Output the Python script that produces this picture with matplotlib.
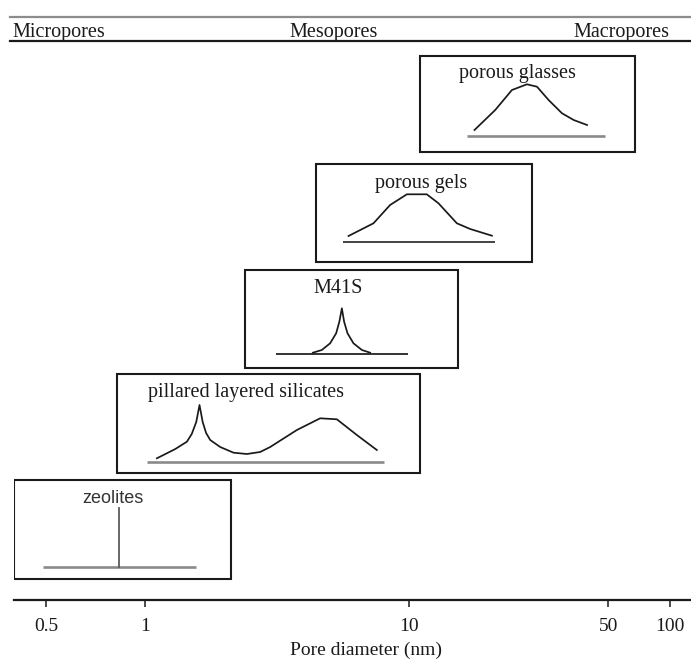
import numpy as np
import matplotlib
matplotlib.use("Agg")
import matplotlib.pyplot as plt
from matplotlib.patches import Rectangle

# ---- data -------------------------------------------------------------
MATERIALS = ["zeolites", "pillared layered silicates", "M41S", "porous gels", "porous glasses"]

# pore-diameter span (nm) covered by each panel and by its baseline
RANGE_LO = [0.40, 0.82, 2.39, 4.44, 10.9]
RANGE_HI = [2.12, 10.9, 14.8, 27.0, 67.6]
BASE_LO = [0.49, 1.02, 3.13, 5.61, 15.9]
BASE_HI = [1.56, 8.02, 9.89, 20.0, 48.8]

# pore size distributions (diameter in nm, relative pore volume)
ZEOLITE_D = [0.83, 0.83]
ZEOLITE_V = [0, 59]
PILLARED_D = [1.107, 1.300, 1.438, 1.500, 1.560, 1.605, 1.650, 1.700, 1.762, 1.922,
              2.159, 2.426, 2.723, 2.972, 3.750, 4.593, 5.313, 6.324, 7.527]
PILLARED_V = [3.7, 13, 20.3, 28, 40, 57, 40, 29, 22, 15,
              9.3, 8, 10, 15, 32, 43.7, 42.7, 27, 12]
M41S_D = [4.31, 4.66, 5.01, 5.28, 5.43, 5.55, 5.66, 5.83, 6.14, 6.61, 7.10]
M41S_V = [1.3, 4, 10.7, 20.7, 32.3, 45.7, 32.3, 20.7, 10.7, 4, 1.3]
GELS_D = [5.88, 7.31, 8.45, 9.78, 11.51, 12.65, 14.68, 16.35, 19.49]
GELS_V = [6, 18.7, 37, 47.7, 47.7, 38.7, 18.7, 13, 6.3]
GLASSES_D = [16.93, 20.02, 22.92, 25.88, 28.07, 30.83, 34.37, 37.76, 42.09]
GLASSES_V = [6, 26, 46, 51.7, 49.3, 36, 22.7, 16, 11]

TICK_VALUES = [0.5, 1, 10, 50, 100]
TICK_LABELS = ["0.5", "1", "10", "50", "100"]
REGIONS = ["Micropores", "Mesopores", "Macropores"]
X_MIN, X_MAX = 0.40, 126.0

# ---- schematic logarithmic axis (tick spacing as drawn) ---------------
TICK_POS = [-0.3757, 0.0, 1.0, 1.7529, 1.9875]
_KL = np.log10(TICK_VALUES)
_KP = np.array(TICK_POS)


def _piecewise(x, xs, ys):
    x = np.asarray(x, dtype=float)
    y = np.interp(x, xs, ys)
    lo_slope = (ys[1] - ys[0]) / (xs[1] - xs[0])
    hi_slope = (ys[-1] - ys[-2]) / (xs[-1] - xs[-2])
    y = np.where(x < xs[0], ys[0] + (x - xs[0]) * lo_slope, y)
    y = np.where(x > xs[-1], ys[-1] + (x - xs[-1]) * hi_slope, y)
    return y


def forward(d):
    d = np.clip(np.asarray(d, dtype=float), 1e-12, None)
    return _piecewise(np.log10(d), _KL, _KP)


def inverse(p):
    return 10.0 ** _piecewise(p, _KP, _KL)


# ---- layout -----------------------------------------------------------
BOX_BOTTOM = [21, 127, 232, 338, 448]
BOX_TOP = [120, 226, 330, 436, 544]
BASE_Y = [33, 138, 246, 358, 464]
LABEL_X = [0.80, 2.41, 5.35, 11.0, 23.9]
LABEL_Y = [97, 203, 307, 412, 522]
BASE_COLOR = ["#8a8a8a", "#8a8a8a", "#111111", "#111111", "#8a8a8a"]
BASE_LW = [1.9, 1.9, 1.2, 1.1, 1.9]

SERIF = ["Liberation Serif", "DejaVu Serif"]
SANS = ["Liberation Sans", "DejaVu Sans"]
INK = "#1a1a1a"

fig = plt.figure(figsize=(6.91, 6.62), dpi=100)
ax = fig.add_axes([14 / 691, 62 / 662, 677 / 691, 600 / 662])
ax.set_xscale("function", functions=(forward, inverse))
ax.set_xlim(X_MIN, X_MAX)
ax.set_ylim(0, 600)

for s in ("top", "left", "right"):
    ax.spines[s].set_visible(False)
ax.spines["bottom"].set_linewidth(1.6)
ax.spines["bottom"].set_color(INK)
ax.set_yticks([])
ax.set_xticks(TICK_VALUES)
ax.set_xticklabels(TICK_LABELS, fontfamily=SERIF, fontsize=14, color=INK)
ax.xaxis.set_minor_locator(matplotlib.ticker.NullLocator())
ax.tick_params(axis="x", direction="out", length=5, width=1.1, pad=8, color=INK)
ax.set_xlabel("Pore diameter (nm)", fontfamily=SERIF, fontsize=14, color=INK)
ax.xaxis.set_label_coords((366 - 14) / 677, -42 / 600)

# panels
curves = [(ZEOLITE_D, ZEOLITE_V), (PILLARED_D, PILLARED_V), (M41S_D, M41S_V),
          (GELS_D, GELS_V), (GLASSES_D, GLASSES_V)]
for i, name in enumerate(MATERIALS):
    ax.add_patch(Rectangle((RANGE_LO[i], BOX_BOTTOM[i]), RANGE_HI[i] - RANGE_LO[i],
                           BOX_TOP[i] - BOX_BOTTOM[i], fill=False,
                           edgecolor=INK, linewidth=1.5))
    ax.plot([BASE_LO[i], BASE_HI[i]], [BASE_Y[i], BASE_Y[i]],
            color=BASE_COLOR[i], linewidth=BASE_LW[i], solid_capstyle="butt")
    d, v = curves[i]
    ax.plot(d, np.asarray(v) + BASE_Y[i],
            color="#555555" if i == 0 else INK, linewidth=1.25,
            solid_joinstyle="round")
    if i == 0:
        ax.text(LABEL_X[i], LABEL_Y[i], name, ha="center", va="baseline",
                fontfamily=SANS, fontsize=13, color="#333333")
    else:
        ax.text(LABEL_X[i], LABEL_Y[i], name, ha="center", va="baseline",
                fontfamily=SERIF, fontsize=14.5, color=INK)

# region header band
x0 = (10 - 14) / 677
ax.plot([x0, 1.0], [583 / 600, 583 / 600], transform=ax.transAxes,
        color="#8c8c8c", linewidth=1.6, clip_on=False)
ax.plot([x0, 1.0], [559 / 600, 559 / 600], transform=ax.transAxes,
        color=INK, linewidth=1.6, clip_on=False)
ax.text((12 - 14) / 677, 563 / 600, REGIONS[0], transform=ax.transAxes,
        ha="left", va="baseline", fontfamily=SERIF, fontsize=14.5, color=INK)
ax.text((334 - 14) / 677, 563 / 600, REGIONS[1], transform=ax.transAxes,
        ha="center", va="baseline", fontfamily=SERIF, fontsize=14.5, color=INK)
ax.text((669 - 14) / 677, 563 / 600, REGIONS[2], transform=ax.transAxes,
        ha="right", va="baseline", fontfamily=SERIF, fontsize=14.5, color=INK)

fig.savefig("out.png", dpi=100)
